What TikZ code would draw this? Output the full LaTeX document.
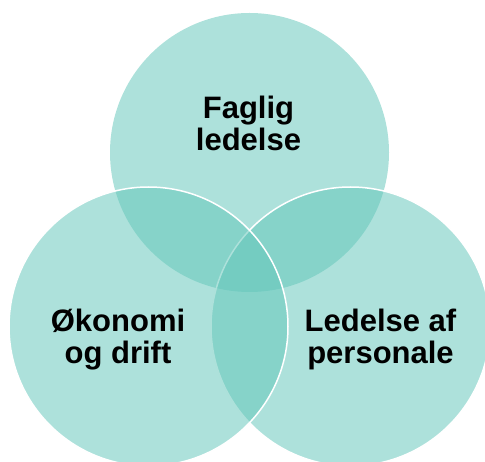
\documentclass[tikz,border=0pt]{standalone}
\usepackage{fontspec}
\setmainfont{Liberation Sans}
\definecolor{teal}{RGB}{99,198,186}
\begin{document}
\begin{tikzpicture}[x=1pt,y=1pt,
  circ/.style={circle,minimum size=279pt,inner sep=0pt,fill=teal,fill opacity=0.525,text opacity=1},
  outl/.style={draw=white,line width=1.5pt,draw opacity=1},
  lbl/.style={font=\bfseries\fontsize{31}{32}\selectfont,align=center,text=black,inner sep=0pt}]
\useasboundingbox (0,0) rectangle (485,461);
\clip (0,0) rectangle (485,461);
\node[circ] (top) at (249.5,308.5) {};
\node[circ,outl] (right) at (350.5,134.5) {};
\node[circ,outl] (left) at (148.5,134.5) {};
\node[lbl] (ftop) at (248.5,338) {Faglig\\ledelse};
\node[lbl] (fleft) at (118,121.8) {Økonomi\\og drift};
\node[lbl] (fright) at (380.5,121.5) {Ledelse af\\personale};
\end{tikzpicture}
\end{document}
